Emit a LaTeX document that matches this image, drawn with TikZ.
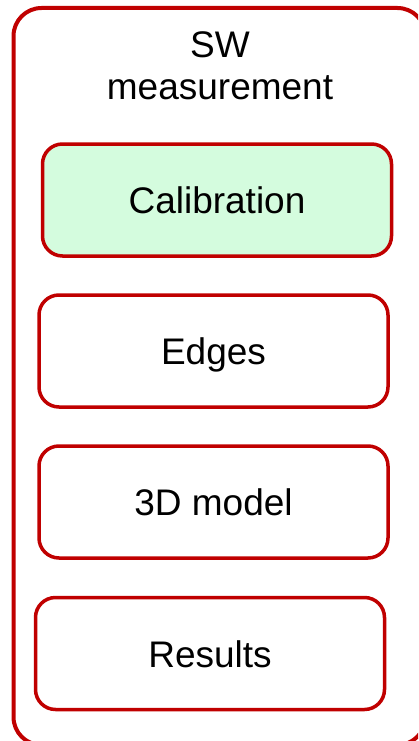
\documentclass[tikz,border=0pt]{standalone}
\usepackage{fontspec}
\setmainfont{Liberation Sans}
\definecolor{boxred}{RGB}{192,0,0}
\definecolor{calgreen}{RGB}{212,252,222}
\tikzset{
  stage/.style={draw=boxred, line width=3.5pt, rounded corners=20pt,
    minimum width=349pt, minimum height=112pt,
    text height=27pt, text depth=0pt,
    font=\fontsize{37}{42}\selectfont},
}
\begin{document}
\begin{tikzpicture}[x=1pt,y=-1pt]
\useasboundingbox (0,0) rectangle (418,741);
\clip (0,0) rectangle (418,741);
\node[draw=boxred, line width=4pt, rounded corners=28pt, minimum width=412pt, minimum height=737pt] (sw) at (219.5,376.5){};
\node[align=center, font=\fontsize{37}{42}\selectfont] (title) at (220,66){SW\\measurement};
\node[stage, fill=calgreen] (calib) at (217,200){Calibration};
\node[stage] (edges) at (213.5,351){Edges};
\node[stage] (model) at (213.5,502){3D model};
\node[stage] (results) at (210,653.5){Results};
\end{tikzpicture}
\end{document}
